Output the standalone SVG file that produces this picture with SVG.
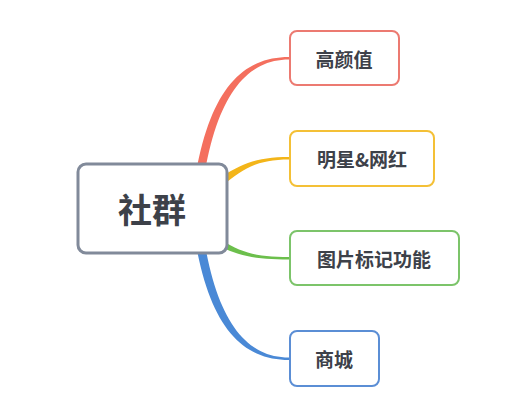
<svg xmlns="http://www.w3.org/2000/svg" width="511" height="410" viewBox="0 0 511 410">
<style>
.t{font-family:"Noto Sans CJK SC","Noto Sans",sans-serif;font-weight:bold;fill:#3d4149;text-anchor:middle;dominant-baseline:central}
.box{fill:#fff;stroke-width:2}
</style>
<rect width="511" height="410" fill="#fff"/>
<g id="connectors">
<path d="M196 172 C211 90 242 57 289 57 L289 59.5 C248 59.5 219 93 205 172 Z" fill="#f46f5e"/>
<path d="M212 184 C238 164 256 157 289 157 L289 159.5 C258 159.5 242 168 218 190 Z" fill="#f3b519"/>
<path d="M212 233 C238 253 256 257 289 257 L289 259.5 C256 259.5 236 256 212 242 Z" fill="#6cbf4c"/>
<path d="M196 245 C211 327 242 360 289 360 L289 357.5 C248 357.5 219 324 205 245 Z" fill="#4a89d6"/>
</g>
<g id="root">
<rect x="78" y="164" width="149" height="89" rx="8" fill="#fff" stroke="#818a9a" stroke-width="3"/>
<text class="t" x="152" y="208" font-size="34">社群</text>
</g>
<g id="n1">
<rect class="box" x="290" y="31" width="109" height="54" rx="7" stroke="#ec7a71"/>
<text class="t" x="344" y="58" font-size="19">高颜值</text>
</g>
<g id="n2">
<rect class="box" x="290" y="131" width="144" height="55" rx="7" stroke="#f4c036"/>
<text class="t" x="362" y="158" font-size="19">明星&amp;网红</text>
</g>
<g id="n3">
<rect class="box" x="290" y="231" width="169" height="54" rx="7" stroke="#7cc46a"/>
<text class="t" x="374" y="258" font-size="19">图片标记功能</text>
</g>
<g id="n4">
<rect class="box" x="290" y="331" width="89" height="55" rx="7" stroke="#5b8ed5"/>
<text class="t" x="334" y="358" font-size="19">商城</text>
</g>
</svg>
